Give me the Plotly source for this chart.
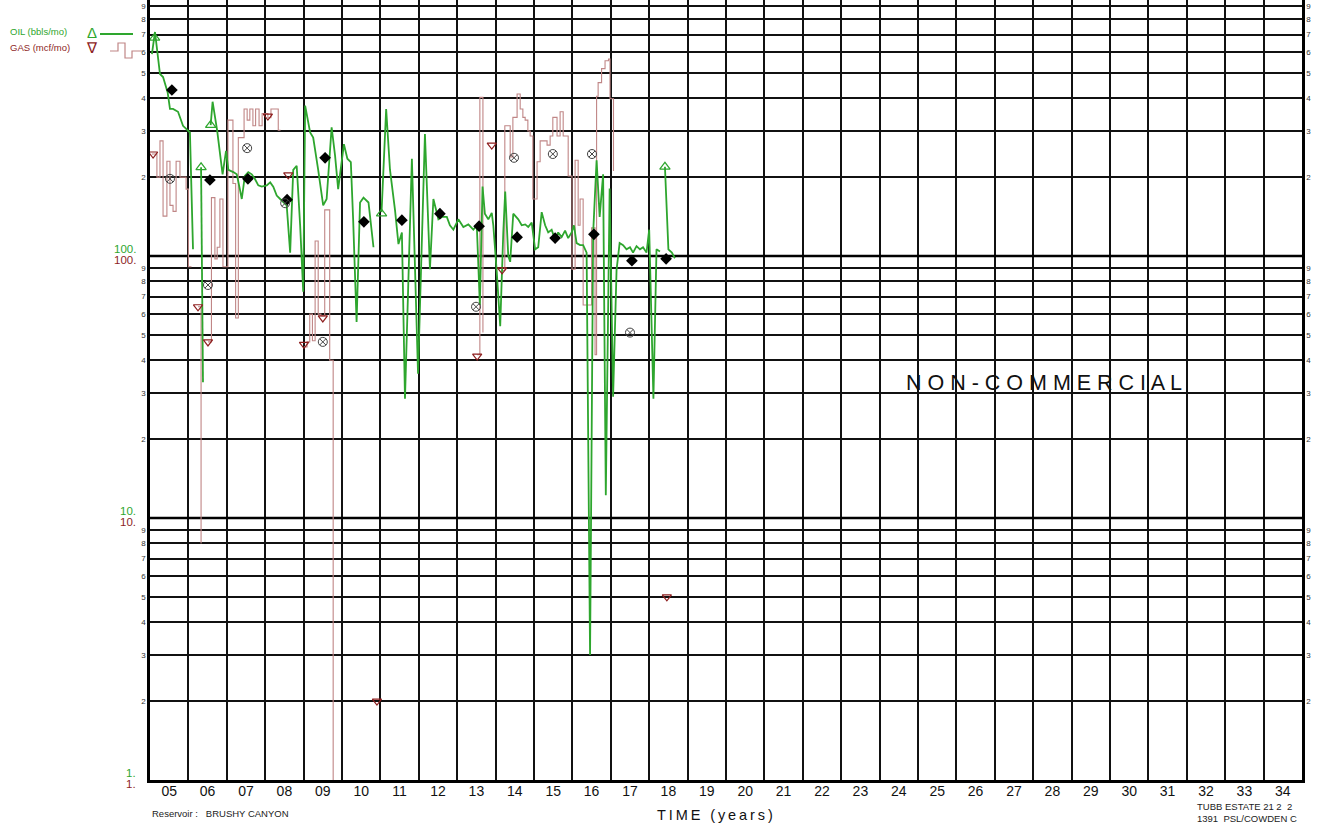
import math
import plotly.graph_objects as go

# ---------------- data ----------------
year_labels = [f"{y % 100:02d}" for y in range(2005, 2035)]

oil_t = [2005.05, 2005.13, 2005.26, 2005.34, 2005.46, 2005.52, 2005.60, 2005.73, 2005.86, 2005.99, 2006.04, 2006.12, None,
         2006.33, 2006.38, None,
         2006.58, 2006.63, 2006.75, 2006.89, 2006.98,
         2007.04, 2007.17, 2007.26, 2007.34, 2007.39, 2007.47, 2007.56, 2007.65, 2007.73, 2007.82, 2007.91,
         2008.04, 2008.13, 2008.21, 2008.30, 2008.39, 2008.47, 2008.56, 2008.65, 2008.73, 2008.82, 2008.91, 2008.99,
         2009.04, 2009.17, 2009.25, 2009.38, 2009.51, 2009.60, 2009.73, 2009.82, 2009.90, 2009.99,
         2010.05, 2010.14, 2010.23, 2010.29, 2010.38, 2010.47, 2010.56, 2010.69, 2010.82, None,
         2011.03, 2011.15, 2011.25, 2011.38, 2011.47, 2011.56, 2011.64, 2011.82, 2011.98,
         2012.16, 2012.29, 2012.38, 2012.51, 2012.60, 2012.73, 2012.81, 2012.90,
         2013.03, 2013.16, 2013.29, 2013.42, 2013.51, 2013.59, 2013.66, 2013.72, 2013.81, 2013.90, 2013.94,
         2014.03, 2014.12, 2014.20, 2014.25, 2014.33, 2014.38, 2014.46, 2014.59, 2014.68, 2014.77, 2014.85, 2014.94,
         2015.03, 2015.11, 2015.20, 2015.29, 2015.37, 2015.46, 2015.55, 2015.63, 2015.72, 2015.81, 2015.89, 2015.98,
         2016.04, 2016.11, 2016.20, 2016.28, 2016.37, 2016.46, 2016.54, 2016.63, 2016.71, 2016.80, 2016.87, 2016.97,
         2017.06, 2017.15, 2017.23, 2017.32, 2017.41, 2017.50, 2017.58, 2017.67, 2017.76, 2017.84, 2017.93,
         2018.00, 2018.11, 2018.19, 2018.28, None,
         2018.41, 2018.50, 2018.59, 2018.67]

oil_v = [590, 716, 495, 482, 421, 364, 364, 355, 314, 300, 296, 106, None,
         218, 33, None,
         316, 388, 300, 205, 252,
         213, 209, 205, 180, 165, 202, 209, 205, 197, 186, 184,
         186, 191, 184, 170, 165, 160, 156, 103, 213, 221, 131, 73,
         375, 296, 283, 213, 156, 165, 310, 241, 180, 228,
         267, 235, 228, 138, 56, 160, 167, 160, 108, None,
         147, 364, 213, 150, 111, 123, 28.5, 235, 35.5,
         292, 89, 165, 138, 141, 141, 131, 126,
         138, 129, 132, 126, 131, 65, 184, 145, 138, 146, 131,
         87, 54, 123, 176, 100, 95, 145, 138, 131, 132, 129, 134,
         106, 108, 147, 131, 123, 126, 115, 123, 118, 125, 117, 123,
         131, 112, 110, 110, 103, 3.0, 122, 232, 141, 205, 12.2, 181,
         29, 88.5, 112, 110, 106, 108, 103, 109, 106, 108, 103,
         126, 28.5, 106, 104, None,
         219, 106, 103, 98]

gas_t = [2005.05, 2005.18, 2005.26, 2005.34, 2005.44, 2005.52, 2005.60, 2005.68, 2005.78, 2005.86, 2005.94, 2006.00, 2006.08, None,
         2006.25, 2006.33, None,
         2006.51, 2006.60, 2006.69, 2006.75, 2006.82, 2006.90,
         2007.03, 2007.16, 2007.23, 2007.30, 2007.45, 2007.53, 2007.60, 2007.68, 2007.75, 2007.84, 2007.92,
         2008.07, 2008.15, 2008.34, 2008.40, None,
         2009.01, 2009.09, 2009.16, 2009.23, 2009.30, 2009.38, 2009.45, 2009.55, 2009.68, 2009.77, None,
         2013.52, 2013.59, 2013.67, None,
         2014.17, 2014.24, 2014.38, 2014.45, 2014.56, 2014.64, 2014.71, 2014.77, 2014.84, 2014.90, 2014.97,
         2015.08, 2015.16, 2015.34, 2015.42, 2015.49, 2015.60, 2015.68, 2015.76, 2015.89, 2015.99,
         2016.07, 2016.15, 2016.20, 2016.28, 2016.50, 2016.59, 2016.63, 2016.67, 2016.76, 2016.85, 2016.94, 2016.98,
         2017.07]

gas_v = [245, 200, 275, 142, 230, 156, 148, 230, 200, 200, 180, 91, 91, None,
         64, 8, None,
         47, 167, 97.5, 108, 165, 91,
         330, 189, 58, 283, 364, 330, 364, 314, 364, 314, 350,
         337, 364, 302, 302, None,
         45, 47, 60, 47.5, 114, 60, 59, 150, 40, 0.5, None,
         42, 403, 51, None,
         88, 314, 239, 338, 415, 364, 338, 330, 300, 287, 165,
         229, 275, 265, 287, 338, 287, 355, 287, 202, 89,
         232, 131, 165, 65, 128, 42, 407, 459, 519, 556, 565, 398,
         211]

oil_avg_t = [2005.57, 2006.56, 2007.55, 2008.57, 2009.56, 2010.57, 2011.56, 2012.55, 2013.57, 2014.56, 2015.55, 2016.56, 2017.55, 2018.44]
oil_avg_v = [430, 195, 197, 164, 237, 135, 137, 145, 130, 118, 117, 121, 96, 97.5]

gas_avg_t = [2005.52, 2006.51, 2007.53, 2008.52, 2009.50, 2013.49, 2014.48, 2015.49, 2016.51, 2017.50]
gas_avg_v = [197, 77.5, 258, 159, 47, 64, 237, 245, 245, 51]

oil_start_t = [2005.12, 2006.33, 2006.58, 2011.03, 2018.41]
oil_start_v = [680, 218, 316, 145, 219]

gas_start_t = [2005.08, 2006.25, 2006.51, 2008.07, 2008.60, 2009.01, 2009.50, 2010.91, 2013.52, 2013.90, 2014.17, 2018.46]
gas_start_v = [245, 64, 47, 342, 204, 46, 58, 2.0, 41.5, 265, 88.5, 5.0]

decades = [1, 10, 100]
minor_digits = list(range(2, 10))

# ---------------- layout helpers ----------------
W, H = 1319, 825
L, R, T, B = 150, 17, 0, 45
PW, PH = W - L - R, H - T - B
YTOP = 2.977


def px(xp):
    return (xp - L) / PW


def py(yp):
    return (H - B - yp) / PH


GREEN = '#2ea62e'
GASC = '#c08686'
RED = '#8e1f1f'
FONT = 'Liberation Sans, Arial, sans-serif'

fig = go.Figure()

for d in decades[1:]:
    fig.add_trace(go.Scatter(x=[2005, 2035], y=[d, d], mode='lines',
                             line=dict(color='black', width=2.5),
                             hoverinfo='skip', showlegend=False))

fig.add_trace(go.Scatter(x=gas_t, y=gas_v, mode='lines', line=dict(color=GASC, width=1.1, shape='hv'),
                         connectgaps=False, showlegend=False))
fig.add_trace(go.Scatter(x=oil_t, y=oil_v, mode='lines', line=dict(color=GREEN, width=1.8),
                         connectgaps=False, showlegend=False))
fig.add_trace(go.Scatter(x=oil_avg_t, y=oil_avg_v, mode='markers',
                         marker=dict(symbol='diamond', size=9, color='black'), showlegend=False))
fig.add_trace(go.Scatter(x=gas_avg_t, y=gas_avg_v, mode='markers',
                         marker=dict(symbol='circle-x-open', size=9, color='#444', line=dict(width=1)),
                         showlegend=False))
fig.add_trace(go.Scatter(x=oil_start_t, y=oil_start_v, mode='markers',
                         marker=dict(symbol='triangle-up-open', size=9, color=GREEN, line=dict(width=1.2)),
                         showlegend=False))
fig.add_trace(go.Scatter(x=gas_start_t, y=gas_start_v, mode='markers',
                         marker=dict(symbol='triangle-down-open', size=8, color=RED, line=dict(width=1.2)),
                         showlegend=False))
# anchor trace for the right-hand axis
fig.add_trace(go.Scatter(x=[2005], y=[10], yaxis='y2', mode='markers', marker=dict(opacity=0),
                         hoverinfo='skip', showlegend=False))

minor_vals = [d * 10 ** e for e in range(3) for d in minor_digits]
minor_text = [str(d) for e in range(3) for d in minor_digits]

fig.update_layout(
    width=W, height=H, margin=dict(l=L, r=R, t=T, b=B, pad=0),
    paper_bgcolor='white', plot_bgcolor='white', showlegend=False,
    font=dict(family=FONT, color='black'),
    xaxis=dict(range=[2005, 2035], tickmode='array', tickvals=[2005.5 + i for i in range(30)],
               ticktext=year_labels, tickfont=dict(size=14, color='#111'), showgrid=False, ticks='',
               ticklabelstandoff=-4,
               zeroline=False, showline=True, linecolor='black', linewidth=2.5,
               minor=dict(tickmode='array', tickvals=list(range(2005, 2036)), showgrid=True,
                          gridcolor='#111', gridwidth=1.5, ticks='')),
    yaxis=dict(type='log', range=[0, YTOP], tickmode='array', tickvals=minor_vals, ticktext=minor_text,
               tickfont=dict(size=8, color='#333'), showgrid=True, gridcolor='#111', gridwidth=1.5,
               ticks='', zeroline=False, showline=True, linecolor='black', linewidth=2.5),
    yaxis2=dict(type='log', range=[0, YTOP], overlaying='y', side='right', tickmode='array',
                tickvals=minor_vals, ticktext=minor_text, tickfont=dict(size=8, color='#333'),
                showgrid=False, ticks='', zeroline=False, showline=True, linecolor='black', linewidth=2.5),
)

ann = []
for d in decades:
    ann.append(dict(xref='paper', yref='y', x=px(138), y=math.log10(d), text=f"{d}.", showarrow=False,
                    xanchor='right', yanchor='bottom', yshift=-1, font=dict(size=11.5, color=GREEN)))
    ann.append(dict(xref='paper', yref='y', x=px(138), y=math.log10(d), text=f"{d}.", showarrow=False,
                    xanchor='right', yanchor='top', yshift=4, font=dict(size=11.5, color=RED)))

ann += [
    dict(xref='paper', yref='paper', x=px(8), y=py(32), text='OIL (bbls/mo)', showarrow=False,
         xanchor='left', yanchor='middle', font=dict(size=9.5, color=GREEN)),
    dict(xref='paper', yref='paper', x=px(8), y=py(47), text='GAS (mcf/mo)', showarrow=False,
         xanchor='left', yanchor='middle', font=dict(size=9.5, color=RED)),
    dict(xref='paper', yref='paper', x=px(92), y=py(33), text='\u0394', showarrow=False,
         xanchor='center', yanchor='middle', font=dict(size=15, color=GREEN)),
    dict(xref='paper', yref='paper', x=px(92), y=py(47), text='\u2207', showarrow=False,
         xanchor='center', yanchor='middle', font=dict(size=15, color=RED)),
    dict(xref='paper', yref='paper', x=px(1044), y=py(383), text=' '.join('NON-COMMERCIAL'), showarrow=False,
         xanchor='center', yanchor='middle', font=dict(size=21.5, color='#111')),
    dict(xref='paper', yref='paper', x=px(715), y=py(815), text='\u2009'.join('TIME (years)'), showarrow=False,
         xanchor='center', yanchor='middle', font=dict(size=14.5, color='#111')),
    dict(xref='paper', yref='paper', x=px(150), y=py(813), text='Reservoir :\u00a0\u00a0 BRUSHY CANYON',
         showarrow=False, xanchor='left', yanchor='middle', font=dict(size=9.5, color='#222')),
    dict(xref='paper', yref='paper', x=px(1195), y=py(812),
         text='TUBB ESTATE 21 2\u00a0\u00a02<br>1391\u00a0\u00a0PSL/COWDEN C', showarrow=False,
         xanchor='left', yanchor='middle', align='left', font=dict(size=9.5, color='#222')),
]
fig.update_layout(annotations=ann)

icon = [(110, 51), (118, 51), (118, 43), (125, 43), (125, 58), (132, 58), (132, 51), (142, 51)]
path = 'M ' + ' L '.join(f"{px(a):.5f},{py(b):.5f}" for a, b in icon)
fig.update_layout(shapes=[
    dict(type='line', xref='paper', yref='paper', x0=px(100), x1=px(133), y0=py(34), y1=py(34),
         line=dict(color=GREEN, width=2)),
    dict(type='path', xref='paper', yref='paper', path=path, line=dict(color=GASC, width=1.2)),
])

fig.write_html('out.html')
